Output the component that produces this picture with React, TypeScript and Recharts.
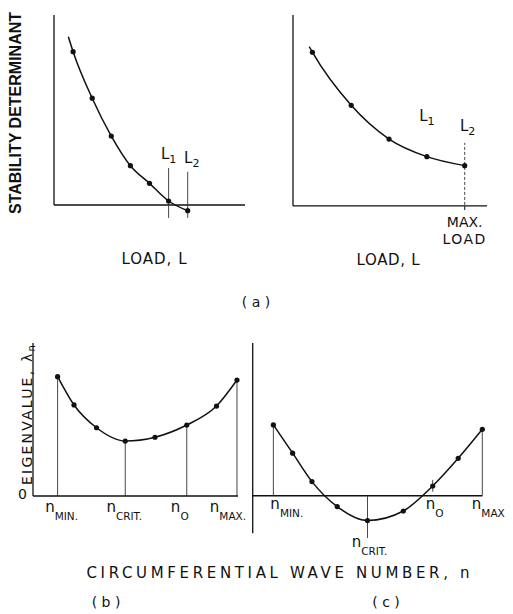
import React from 'react';
import { LineChart, Line, XAxis, YAxis, ReferenceLine, ReferenceDot } from 'recharts';

const INK = '#111';
const FONT = '"DejaVu Sans", "Liberation Sans", Arial, sans-serif';

// (a) left: determinant falls through zero between L1 and L2
const loadLeft = [0.75, 1, 2, 3, 4, 5, 6, 7];
const detLeft = [8.86, 8.07, 5.62, 3.63, 2.07, 1.14, 0.21, -0.3];
const critLoads = [6, 7];
const critNames = ['1', '2'];

// (a) right: stays positive up to max load
const loadRight = [0.84, 1, 3, 4.95, 6.9, 8.85];
const detRight = [8.34, 8.05, 5.27, 3.5, 2.58, 2.11];

// (b) eigenvalue vs wave number, all positive
const waveB = [1.2, 2.0, 3.1, 4.5, 5.95, 7.5, 8.95, 9.95];
const eigB = [7.8, 5.95, 4.46, 3.59, 3.84, 4.64, 5.88, 7.58];
const markB = [0, 3, 5, 7];
const subB = ['MIN.', 'CRIT.', 'O', 'MAX.'];

// (c) eigenvalue dips below zero
const waveC = [0.9, 1.74, 2.58, 3.68, 5.0, 6.56, 7.84, 8.95, 10];
const eigC = [3.71, 2.23, 0.74, -0.57, -1.3, -0.8, 0.51, 1.96, 3.48];
const markC = [0, 4, 6, 8];
const subC = ['MIN.', 'CRIT.', 'O', 'MAX'];

const toRows = (xs: number[], ys: number[]) => xs.map((x, i) => ({ x, y: ys[i] }));

const dotFrom = (skip: number) => (p: any) =>
  p.index < skip ? (
    <g key={`d${p.index}`} />
  ) : (
    <circle key={`d${p.index}`} cx={p.cx} cy={p.cy} r={2.6} fill={INK} />
  );

const SubText = (props: any) => {
  const { viewBox, main, sub, end = 'bottom', dx = 0, dy = 0, anchor = 'middle', size = 15, subSize = 10.5, shift = 8 } = props;
  if (!viewBox) return null;
  const x = viewBox.x + dx;
  const y = (end === 'bottom' ? viewBox.y + viewBox.height : viewBox.y) + dy;
  return (
    <text x={x} y={y} textAnchor={anchor} fontFamily={FONT} fontSize={size} fill={INK}>
      {main}
      <tspan fontSize={subSize} dy={shift}>{sub}</tspan>
    </text>
  );
};

const MaxLoad = (props: any) => {
  const { viewBox } = props;
  if (!viewBox) return null;
  const x = viewBox.x;
  const y = viewBox.y + viewBox.height;
  return (
    <text fontFamily={FONT} fontSize={14} fill={INK} textAnchor="middle">
      <tspan x={x} y={y + 17}>MAX.</tspan>
      <tspan x={x} y={y + 34} letterSpacing={1.5}>LOAD</tspan>
    </text>
  );
};

const axisStyle = { stroke: INK, strokeWidth: 1.3 };
const guide = { stroke: '#333', strokeWidth: 0.9 };
const shiftB = [4, -1, -7, -9];

const App: React.FC = () => {
  const ticksB = markB.map((i) => waveB[i]);
  return (
    <div style={{ position: 'absolute', left: 0, top: 0, width: 513, height: 614, background: '#fff', fontFamily: FONT }}>
      <svg width={513} height={614} style={{ position: 'absolute', left: 0, top: 0 }}>
        <text transform="translate(21,113) rotate(-90)" textAnchor="middle" fontSize={16} fontWeight="bold" fill={INK} fontFamily='"Liberation Sans", Arial, sans-serif'>
          STABILITY DETERMINANT
        </text>
        <text x={154} y={264} textAnchor="middle" fontSize={15} fill={INK} fontFamily={FONT} textLength={65}>LOAD, L</text>
        <text x={388} y={265} textAnchor="middle" fontSize={15} fill={INK} fontFamily={FONT} textLength={63}>LOAD, L</text>
        <text x={256} y={307} textAnchor="middle" fontSize={14} fill={INK} fontFamily={FONT}>(  a  )</text>
        <text transform="translate(31.5,414) rotate(-90)" textAnchor="middle" fontSize={14} fill={INK} fontFamily={FONT} letterSpacing={2.2}>
          EIGENVALUE, λ<tspan fontSize={10} dy={3}>n</tspan>
        </text>
        <text x={278} y={578} textAnchor="middle" fontSize={15} fill={INK} fontFamily={FONT} textLength={383}>CIRCUMFERENTIAL WAVE NUMBER, n</text>
        <text x={106} y={607} textAnchor="middle" fontSize={14} fill={INK} fontFamily={FONT}>( b )</text>
        <text x={386} y={607} textAnchor="middle" fontSize={14} fill={INK} fontFamily={FONT}>( c )</text>
      </svg>

      <div style={{ position: 'absolute', left: 0, top: 0 }}>
        <LineChart width={256} height={300} data={toRows(loadLeft, detLeft)} margin={{ top: 15, left: 54, right: 11, bottom: 76 }}>
          <XAxis type="number" dataKey="x" domain={[0, 10]} hide />
          <YAxis type="number" domain={[-1, 10]} hide />
          <ReferenceLine segment={[{ x: 0, y: 0 }, { x: 10, y: 0 }]} {...axisStyle} />
          <ReferenceLine segment={[{ x: 0, y: 0 }, { x: 0, y: 10 }]} {...axisStyle} />
          {critLoads.map((L, i) => (
            <ReferenceLine
              key={`c${i}`}
              segment={[{ x: L, y: -0.68 }, { x: L, y: i === 0 ? 1.95 : 1.75 }]}
              {...guide}
              label={<SubText main="L" sub={critNames[i]} end="top" dy={-9} dx={i === 0 ? 0 : 4} shift={4} subSize={11} />}
            />
          ))}
          <Line type="monotone" dataKey="y" stroke={INK} strokeWidth={1.5} dot={dotFrom(1)} isAnimationActive={false} />
        </LineChart>
      </div>

      <div style={{ position: 'absolute', left: 256, top: 0 }}>
        <LineChart width={257} height={300} data={toRows(loadRight, detRight)} margin={{ top: 15, left: 37, right: 26, bottom: 75 }}>
          <XAxis type="number" dataKey="x" domain={[0, 10]} hide />
          <YAxis type="number" domain={[-1, 10]} hide />
          <ReferenceLine segment={[{ x: 0, y: 0 }, { x: 10, y: 0 }]} {...axisStyle} />
          <ReferenceLine segment={[{ x: 0, y: 0 }, { x: 0, y: 10 }]} {...axisStyle} />
          <ReferenceLine
            segment={[{ x: loadRight[5], y: -0.21 }, { x: loadRight[5], y: 3.3 }]}
            stroke="#333"
            strokeWidth={0.9}
            strokeDasharray="3 2"
            label={<SubText main="L" sub="2" end="top" dy={-12} dx={3} shift={4} subSize={11} />}
          />
          <ReferenceLine segment={[{ x: loadRight[5], y: -0.21 }, { x: loadRight[5], y: 0 }]} stroke="#333" strokeWidth={0.9} label={<MaxLoad />} />
          <ReferenceDot x={loadRight[4]} y={detRight[4]} r={0} fill="none" stroke="none" label={<SubText main="L" sub="1" end="top" dy={-36} shift={4} subSize={11} />} />
          <Line type="monotone" dataKey="y" stroke={INK} strokeWidth={1.5} dot={dotFrom(1)} isAnimationActive={false} />
        </LineChart>
      </div>

      <div style={{ position: 'absolute', left: 0, top: 330 }}>
        <LineChart width={256} height={284} data={toRows(waveB, eigB)} margin={{ top: 13, left: 0, right: 18, bottom: 88 }}>
          <XAxis
            type="number"
            dataKey="x"
            domain={[0, 10]}
            ticks={ticksB}
            interval={0}
            height={30}
            tickLine={false}
            axisLine={axisStyle}
            tick={(p: any) => {
              const k = ticksB.indexOf(p.payload.value);
              return (
                <SubText key={`t${k}`} viewBox={{ x: p.x, y: p.y, width: 0, height: 0 }} main="n" sub={subB[k]} dx={shiftB[k]} dy={8} />
              );
            }}
          />
          <YAxis
            type="number"
            domain={[0, 10]}
            ticks={[0]}
            width={33}
            tickLine={false}
            axisLine={axisStyle}
            tick={(p: any) => (
              <text key="z" x={p.x + 2} y={p.y + 3} textAnchor="end" fontSize={14} fill={INK} fontFamily={FONT}>
                {p.payload.value}
              </text>
            )}
          />
          {markB.map((i) => (
            <ReferenceLine key={`v${i}`} segment={[{ x: waveB[i], y: 0 }, { x: waveB[i], y: eigB[i] }]} {...guide} />
          ))}
          <Line type="monotone" dataKey="y" stroke={INK} strokeWidth={1.5} dot={dotFrom(0)} isAnimationActive={false} />
        </LineChart>
      </div>

      <div style={{ position: 'absolute', left: 240, top: 330 }}>
        <LineChart width={273} height={284} data={toRows(waveC, eigC)} margin={{ top: 13, left: 12.7, right: 30.7, bottom: 61 }}>
          <XAxis type="number" dataKey="x" domain={[0, 10]} hide />
          <YAxis type="number" domain={[-3, 8]} hide />
          <ReferenceLine segment={[{ x: 0, y: 0 }, { x: 10, y: 0 }]} {...axisStyle} />
          <ReferenceLine segment={[{ x: 0, y: -1.96 }, { x: 0, y: 8 }]} {...axisStyle} />
          <ReferenceLine
            segment={[{ x: waveC[markC[0]], y: 0 }, { x: waveC[markC[0]], y: eigC[markC[0]] }]}
            {...guide}
            label={<SubText main="n" sub={subC[0]} dy={13} dx={-3} anchor="start" />}
          />
          <ReferenceLine
            segment={[{ x: waveC[markC[1]], y: -2.21 }, { x: waveC[markC[1]], y: 0 }]}
            {...guide}
            label={<SubText main="n" sub={subC[1]} dy={9} dx={2} />}
          />
          <ReferenceLine
            segment={[{ x: waveC[markC[2]], y: 0.21 }, { x: waveC[markC[2]], y: 0.83 }]}
            {...guide}
            label={<SubText main="n" sub={subC[2]} dy={17} dx={2} />}
          />
          <ReferenceLine
            segment={[{ x: waveC[markC[3]], y: 0 }, { x: waveC[markC[3]], y: eigC[markC[3]] }]}
            {...guide}
            label={<SubText main="n" sub={subC[3]} dy={13} dx={6} />}
          />
          <Line type="monotone" dataKey="y" stroke={INK} strokeWidth={1.5} dot={dotFrom(0)} isAnimationActive={false} />
        </LineChart>
      </div>
    </div>
  );
};

export default App;
